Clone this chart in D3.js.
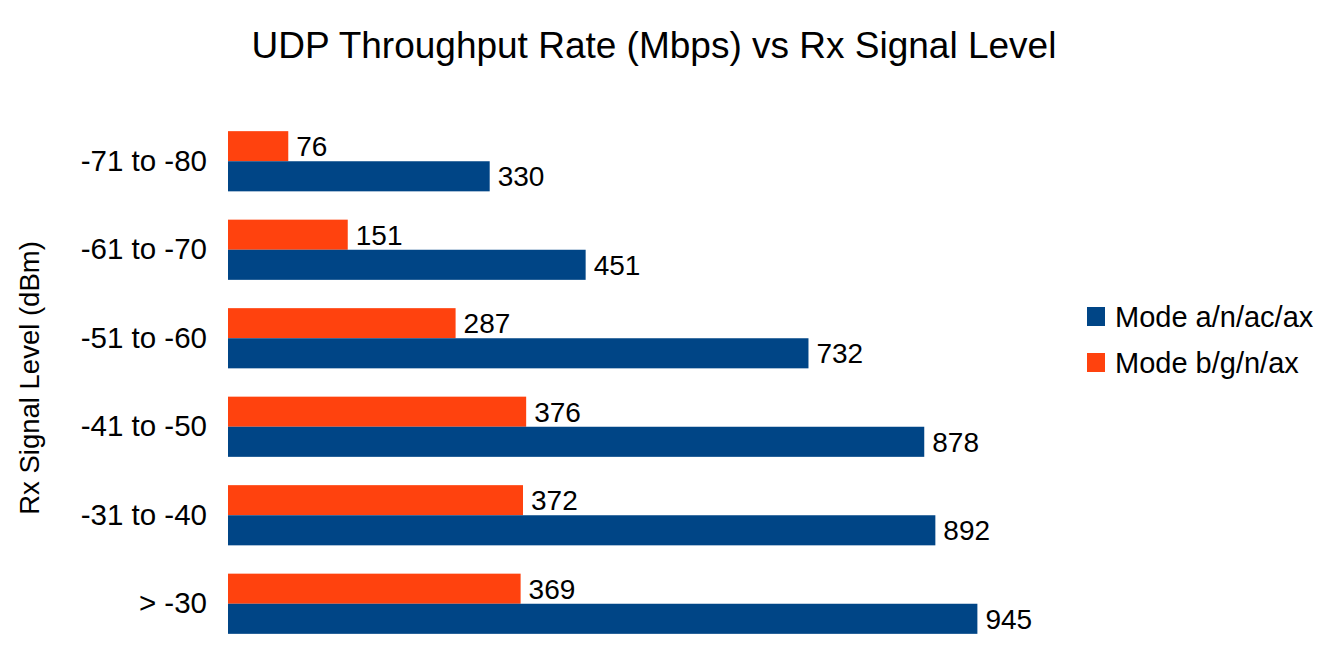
<!DOCTYPE html>
<html>
<head>
<meta charset="utf-8">
<script src="https://cdn.jsdelivr.net/npm/d3@7"></script>
<style>
  body { margin: 0; background: #fff; }
  text { font-family: "Liberation Sans", Arial, sans-serif; fill: #000; }
</style>
</head>
<body>
<div id="chart"></div>
<script>
// Chart data (top to bottom)
var categories = ["-71 to -80", "-61 to -70", "-51 to -60", "-41 to -50", "-31 to -40", "> -30"];
var modeA = [330, 451, 732, 878, 892, 945];   // Mode a/n/ac/ax
var modeB = [76, 151, 287, 376, 372, 369];    // Mode b/g/n/ax
var seriesNames = ["Mode a/n/ac/ax", "Mode b/g/n/ax"];
var seriesColors = ["#004586", "#ff420e"];

var width = 1340;
var height = 672;

var svg = d3.select("#chart").append("svg")
  .attr("width", width)
  .attr("height", height);

// Title
svg.append("text")
  .attr("x", 654)
  .attr("y", 58)
  .attr("font-size", "37px")
  .style("text-anchor", "middle")
  .text("UDP Throughput Rate (Mbps) vs Rx Signal Level");

// Scales
var xScale = d3.scaleLinear()
  .domain([0, 1000])
  .range([228, 1021]);

var yScale = d3.scaleBand()
  .domain(categories)
  .range([117, 648])
  .paddingInner(0.32)
  .paddingOuter(0.16);

var barH = yScale.bandwidth() / 2;

// Category axis (labels only, no line)
var yAxis = svg.append("g")
  .attr("transform", "translate(228,0)")
  .call(d3.axisLeft(yScale).tickSize(0).tickPadding(21));
yAxis.select(".domain").remove();
yAxis.selectAll("text")
  .style("font-family", "Liberation Sans, Arial, sans-serif")
  .attr("font-size", "29.5px")
  .attr("fill", "#000");

// Y axis title
svg.append("text")
  .attr("transform", "rotate(-90)")
  .attr("x", -378)
  .attr("y", 39)
  .attr("font-size", "27.5px")
  .style("text-anchor", "middle")
  .text("Rx Signal Level (dBm)");

// Bars: orange on top, blue below
var rows = categories.map(function(c, i) {
  return { cat: c, a: modeA[i], b: modeB[i] };
});

var groups = svg.selectAll(".grp").data(rows).enter().append("g")
  .attr("class", "grp");

groups.append("rect")
  .attr("x", xScale(0))
  .attr("y", function(d) { return yScale(d.cat); })
  .attr("width", function(d) { return xScale(d.b) - xScale(0); })
  .attr("height", barH)
  .attr("fill", seriesColors[1]);

groups.append("rect")
  .attr("x", xScale(0))
  .attr("y", function(d) { return yScale(d.cat) + barH; })
  .attr("width", function(d) { return xScale(d.a) - xScale(0); })
  .attr("height", barH)
  .attr("fill", seriesColors[0]);

// Value labels
groups.append("text")
  .attr("x", function(d) { return xScale(d.b) + 8; })
  .attr("y", function(d) { return yScale(d.cat) + barH / 2; })
  .attr("dy", "0.35em")
  .attr("font-size", "28px")
  .text(function(d) { return d.b; });

groups.append("text")
  .attr("x", function(d) { return xScale(d.a) + 8; })
  .attr("y", function(d) { return yScale(d.cat) + barH * 1.5; })
  .attr("dy", "0.35em")
  .attr("font-size", "28px")
  .text(function(d) { return d.a; });

// Legend
var legend = svg.append("g").attr("transform", "translate(1087,307)");
seriesNames.forEach(function(name, i) {
  legend.append("rect")
    .attr("x", 0)
    .attr("y", i * 46)
    .attr("width", 18)
    .attr("height", 19)
    .attr("fill", seriesColors[i]);
  legend.append("text")
    .attr("x", 28)
    .attr("y", i * 46 + 9.5)
    .attr("dy", "0.35em")
    .attr("font-size", "29px")
    .text(name);
});
</script>
</body>
</html>
